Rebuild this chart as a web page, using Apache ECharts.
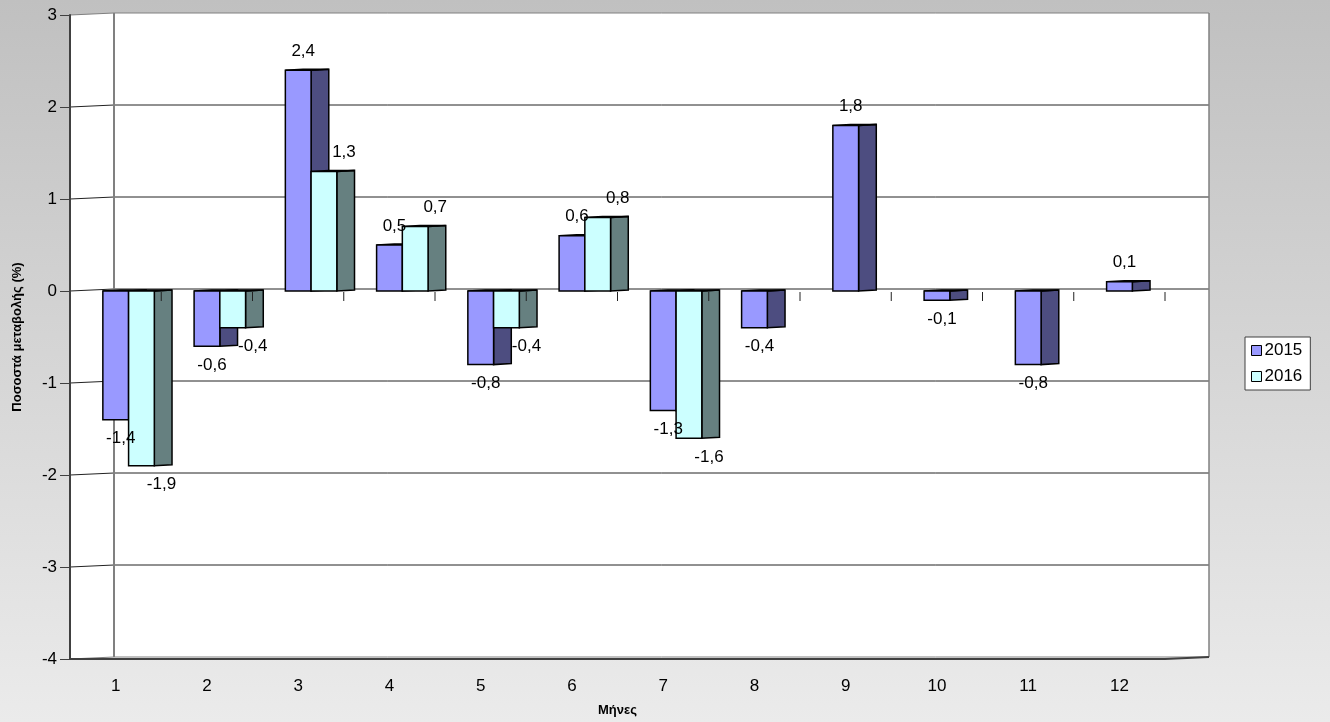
<!DOCTYPE html>
<html>
<head>
<meta charset="utf-8">
<script src="https://cdn.jsdelivr.net/npm/echarts@6/dist/echarts.min.js"></script>
<style>
html, body { margin: 0; padding: 0; }
#chart { width: 1330px; height: 722px; }
</style>
</head>
<body>
<div id="chart"></div>
<script>
const months = ['1', '2', '3', '4', '5', '6', '7', '8', '9', '10', '11', '12'];
const values2015 = [-1.4, -0.6, 2.4, 0.5, -0.8, 0.6, -1.3, -0.4, 1.8, -0.1, -0.8, 0.1];
const values2016 = [-1.9, -0.4, 1.3, 0.7, -0.4, 0.8, -1.6, null, null, null, null, null];
const yTicks = [-4, -3, -2, -1, 0, 1, 2, 3];

const FONT = '"Liberation Sans", Arial, sans-serif';
const DX = 44, DY = -2; // depth of the 3d box

function fmt(v) {
    return v.toFixed(1).replace('.', ',');
}

// back wall + side wall + grid lines
function wallItem(params, api) {
    const cs = params.coordSys;
    const x0 = cs.x, x1 = cs.x + cs.width;
    const yTop = api.coord([0, yTicks[yTicks.length - 1]])[1];
    const yBot = api.coord([0, yTicks[0]])[1];
    const children = [];
    children.push({
        type: 'polygon',
        shape: { points: [[x0 + 1, yTop], [x0 + DX, yTop + DY], [x1 + DX, yTop + DY], [x1 + DX, yBot + DY], [x1, yBot], [x0 + 1, yBot]] },
        style: { fill: '#fff', stroke: null }
    });
    yTicks.forEach(function (t) {
        const y = api.coord([0, t])[1];
        const isEdge = t === yTicks[0] || t === yTicks[yTicks.length - 1];
        children.push({
            type: 'polyline',
            shape: { points: [[x0, y], [x0 + DX, y + DY], [x1 + DX, y + DY]] },
            style: { stroke: isEdge ? '#808080' : '#222', lineWidth: 1, fill: null }
        });
    });
    // back corner and right edge
    children.push({
        type: 'line',
        shape: { x1: x0 + DX, y1: yTop + DY, x2: x0 + DX, y2: yBot + DY },
        style: { stroke: '#808080', lineWidth: 2 }
    });
    children.push({
        type: 'line',
        shape: { x1: x1 + DX, y1: yTop + DY, x2: x1 + DX, y2: yBot + DY },
        style: { stroke: '#808080', lineWidth: 1.5 }
    });
    children.push({
        type: 'line',
        shape: { x1: x1, y1: yBot, x2: x1 + DX, y2: yBot + DY },
        style: { stroke: '#404040', lineWidth: 2 }
    });
    return { type: 'group', children: children };
}

// small ticks on the zero line
function zeroTicks(params, api) {
    const cs = params.coordSys;
    const bw = api.size([1, 0])[0];
    const y = api.coord([0, 0])[1];
    const children = [];
    for (let k = 1; k <= months.length; k++) {
        const x = cs.x + k * bw;
        children.push({
            type: 'line', z2: 50,
            shape: { x1: x, y1: y + 1, x2: x, y2: y + 10 },
            style: { stroke: '#222', lineWidth: 1 }
        });
    }
    return { type: 'group', children: children };
}

function barItem(s, front, side, labelDx) {
    return function (params, api) {
        const i = api.value(0), v = api.value(1);
        const bw = api.size([1, 0])[0];
        const c = api.coord([i, v]);
        const o = api.coord([i, 0]);
        const fw = bw * 0.282, sw = bw * 0.194;
        const xl = c[0] - bw * 0.14 + s * fw;
        const xr = xl + fw;
        const yt = Math.min(c[1], o[1]), yb = Math.max(c[1], o[1]);
        const line = { stroke: '#000', lineWidth: 1.5 };
        return {
            type: 'group',
            children: [
                {
                    type: 'polygon',
                    shape: { points: [[xr, yt], [xr + sw, yt - 1], [xr + sw, yb - 1], [xr, yb]] },
                    style: Object.assign({ fill: side }, line)
                },
                {
                    type: 'polygon',
                    shape: { points: [[xl, yt], [xr, yt], [xr + sw, yt - 1], [xl + sw, yt - 1]] },
                    style: Object.assign({ fill: front }, line)
                },
                {
                    type: 'rect',
                    shape: { x: xl, y: yt, width: fw, height: yb - yt },
                    style: Object.assign({ fill: front }, line)
                },
                {
                    type: 'text', z2: 100,
                    style: {
                        text: fmt(v),
                        x: xl + fw / 2 + labelDx,
                        y: v >= 0 ? c[1] - 19 : c[1] + 19,
                        align: 'center', verticalAlign: 'middle',
                        fontSize: 17, fontFamily: FONT, fill: '#000'
                    }
                }
            ]
        };
    };
}

const data2015 = values2015.map((v, i) => [i, v]);
const data2016 = values2016.map((v, i) => [i, v]).filter(d => d[1] !== null);

const chart = echarts.init(document.getElementById('chart'));
const option = {
    backgroundColor: {
        type: 'linear', x: 0, y: 0, x2: 0, y2: 1,
        colorStops: [{ offset: 0, color: '#c0c0c0' }, { offset: 1, color: '#ebebeb' }]
    },
    textStyle: { fontFamily: FONT },
    animation: false,
    grid: { left: 70, right: 165, top: 15, bottom: 62 },
    legend: {
        orient: 'vertical',
        left: 1245, top: 337,
        data: ['2015', '2016'],
        icon: 'rect',
        itemWidth: 10, itemHeight: 10, itemGap: 9,
        padding: [5, 8, 5, 6],
        backgroundColor: '#fff',
        borderColor: '#404040', borderWidth: 1,
        itemStyle: { borderColor: '#000', borderWidth: 1 },
        textStyle: { fontSize: 17, color: '#000', fontFamily: FONT, padding: [0, 0, 0, -2] }
    },
    xAxis: {
        type: 'category',
        data: months,
        z: 10,
        axisLine: { onZero: false, lineStyle: { color: '#404040', width: 2 } },
        axisTick: { length: 11, lineStyle: { color: '#404040' } },
        axisLabel: { fontSize: 17, color: '#000', margin: 19 },
        name: 'Μήνες',
        nameLocation: 'middle',
        nameGap: 45,
        nameTextStyle: { fontWeight: 'bold', fontSize: 13, color: '#000' }
    },
    yAxis: {
        type: 'value',
        min: -4, max: 3, interval: 1,
        z: 10,
        axisLine: { show: true, lineStyle: { color: '#404040', width: 2 } },
        axisTick: { show: true, length: 10, lineStyle: { color: '#404040' } },
        axisLabel: { fontSize: 17, color: '#000', margin: 13 },
        splitLine: { show: false },
        name: 'Ποσοστά μεταβολής (%)',
        nameLocation: 'middle',
        nameGap: 46,
        nameTextStyle: { fontWeight: 'bold', fontSize: 13, color: '#000' }
    },
    series: [
        {
            name: 'wall', type: 'custom', z: 1, silent: true,
            renderItem: wallItem, data: [[0, 0]]
        },
        {
            name: '2015', type: 'custom', z: 2,
            itemStyle: { color: '#9999ff' },
            renderItem: barItem(0, '#9999ff', '#4d4d80', 5),
            data: data2015
        },
        {
            name: '2016', type: 'custom', z: 2,
            itemStyle: { color: '#ccffff' },
            renderItem: barItem(1, '#ccffff', '#668080', 20),
            data: data2016
        },
        {
            name: 'ticks', type: 'custom', z: 3, silent: true,
            renderItem: zeroTicks, data: [[0, 0]]
        }
    ]
};
chart.setOption(option);
window.addEventListener('resize', function () {
    chart.resize();
});
</script>
</body>
</html>
